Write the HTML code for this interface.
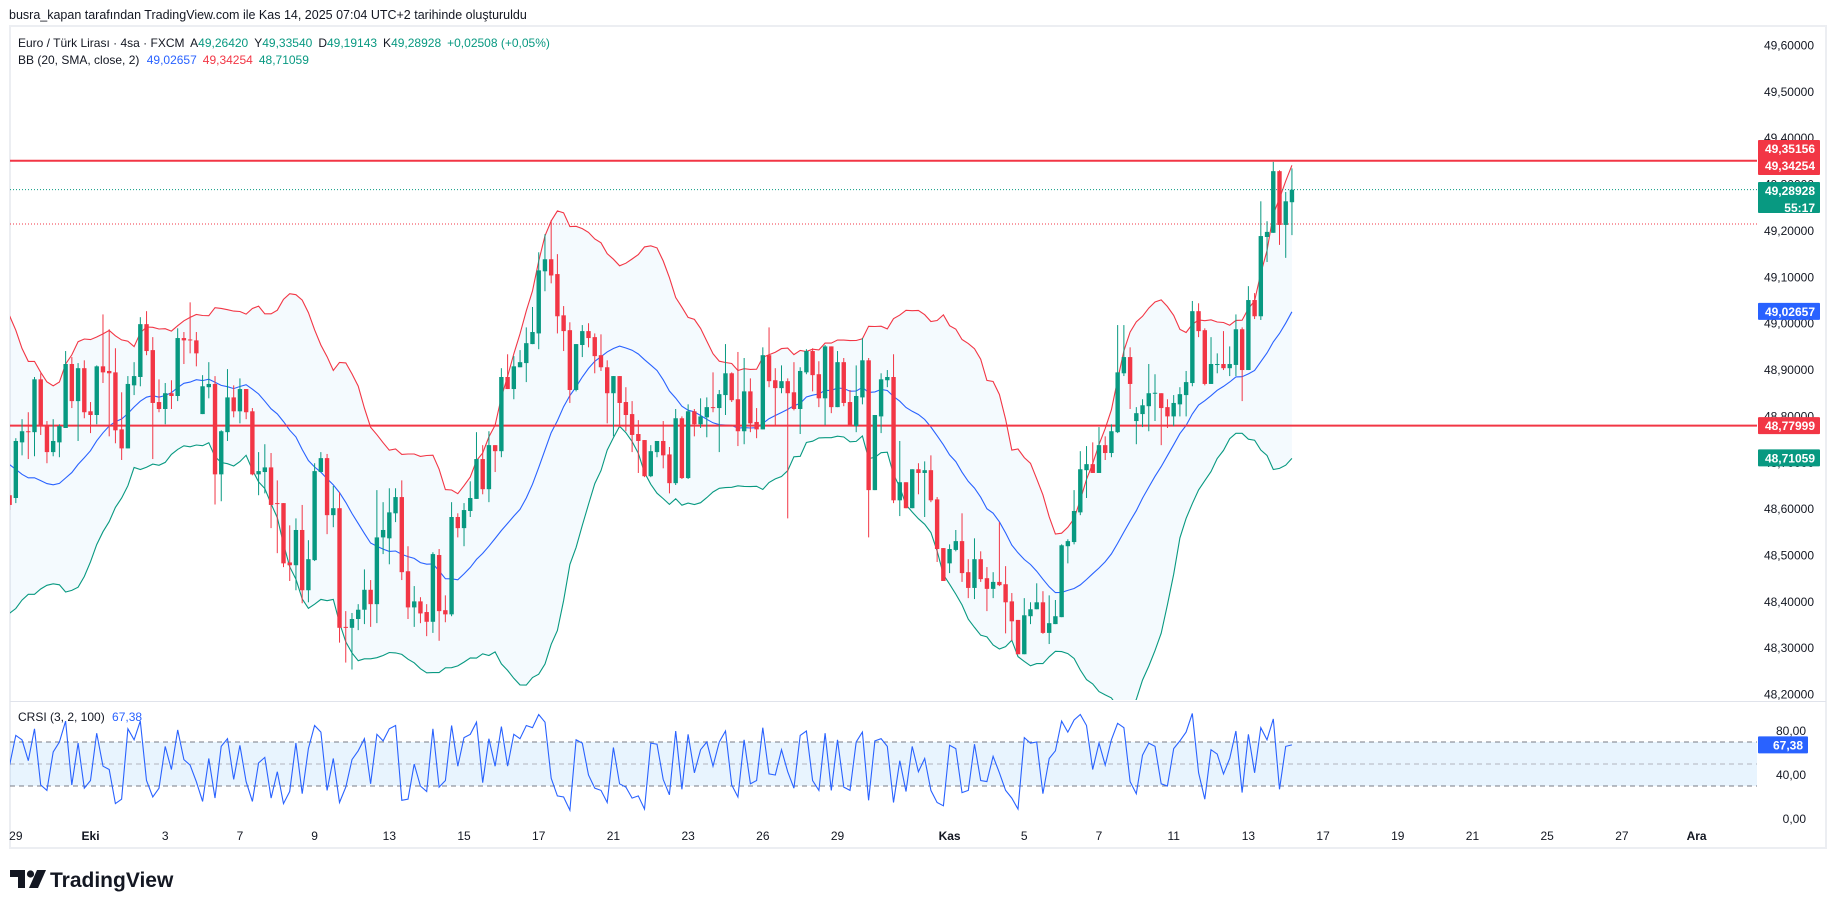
<!DOCTYPE html>
<html><head><meta charset="utf-8">
<style>
html,body{margin:0;padding:0;background:#fff;}
body{width:1835px;height:909px;overflow:hidden;font-family:"Liberation Sans","DejaVu Sans",sans-serif;}
svg{display:block;}
</style></head>
<body>
<svg id="chart" width="1835" height="909" viewBox="0 0 1835 909" xmlns="http://www.w3.org/2000/svg" font-family="Liberation Sans, DejaVu Sans, sans-serif">
  <rect x="0" y="0" width="1835" height="909" fill="#ffffff"/>
  <text x="9" y="19" font-size="12.5" fill="#131722">busra_kapan tarafından TradingView.com ile Kas 14, 2025 07:04 UTC+2 tarihinde oluşturuldu</text>
  <rect x="10" y="26" width="1816" height="822" fill="none" stroke="#eceef2" stroke-width="2"/>
  <line x1="10" y1="701.5" x2="1826" y2="701.5" stroke="#e0e3eb" stroke-width="1"/>
  <g id="main"></g>
  <g id="crsi"></g>
  <g id="axes"></g>
  <text x="18" y="47" font-size="12" fill="#131722">Euro / Türk Lirası · 4sa · FXCM <tspan dx="3">A</tspan><tspan fill="#089981">49,26420</tspan><tspan dx="6">Y</tspan><tspan fill="#089981">49,33540</tspan><tspan dx="6">D</tspan><tspan fill="#089981">49,19143</tspan><tspan dx="6">K</tspan><tspan fill="#089981">49,28928</tspan><tspan dx="6" fill="#089981">+0,02508 (+0,05%)</tspan></text>
  <text x="18" y="64" font-size="12" fill="#131722">BB (20, SMA, close, 2) <tspan dx="4" fill="#2962ff">49,02657</tspan><tspan dx="6" fill="#f23645">49,34254</tspan><tspan dx="6" fill="#089981">48,71059</tspan></text>
  <text x="18" y="721" font-size="12" fill="#131722">CRSI (3, 2, 100) <tspan dx="4" fill="#2962ff">67,38</tspan></text>
  <g>
    <path d="M10,870 H25 V888 H18 V877 H10 Z" fill="#131722"/>
    <circle cx="30.5" cy="874" r="3.6" fill="#131722"/>
    <path d="M37,870 H46 L38,888 H29 Z" fill="#131722"/>
    <text x="50" y="887" font-size="21" font-weight="bold" fill="#131722">TradingView</text>
  </g>
</svg>
<script>
// ---- data ----
const openP = [48.630,48.624,48.744,48.768,48.766,48.880,48.779,48.723,48.744,48.775,
48.913,48.833,48.904,48.811,48.803,48.908,48.898,48.895,48.772,48.731,
48.867,48.885,48.999,48.943,48.831,48.816,48.850,48.844,48.969,48.966,
48.964,48.805,48.863,48.870,48.675,48.766,48.841,48.811,48.859,48.811,
48.675,48.680,48.690,48.613,48.613,48.485,48.479,48.555,48.425,48.490,
48.680,48.710,48.587,48.602,48.346,48.344,48.363,48.383,48.426,48.395,
48.539,48.537,48.591,48.626,48.466,48.388,48.401,48.378,48.357,48.501,
48.382,48.373,48.583,48.559,48.596,48.622,48.708,48.643,48.738,48.725,
48.885,48.859,48.906,48.915,48.956,48.979,49.113,49.139,49.107,49.018,
48.986,48.857,48.954,48.984,48.971,48.932,48.906,48.850,48.887,48.831,
48.805,48.762,48.749,48.671,48.723,48.747,48.718,48.656,48.796,48.667,
48.811,48.783,48.798,48.820,48.818,48.846,48.893,48.837,48.768,48.854,
48.788,48.772,48.932,48.878,48.861,48.876,48.852,48.816,48.895,48.941,
48.891,48.839,48.951,48.820,48.917,48.831,48.779,48.841,48.921,48.641,
48.800,48.878,48.885,48.619,48.658,48.602,48.686,48.678,48.684,48.621,
48.516,48.483,48.512,48.531,48.464,48.430,48.492,48.451,48.428,48.443,
48.438,48.401,48.361,48.287,48.369,48.384,48.399,48.333,48.352,48.367,
48.520,48.529,48.593,48.684,48.697,48.678,48.738,48.721,48.766,48.893,
48.928,48.790,48.805,48.822,48.850,48.850,48.820,48.800,48.826,48.846,
48.872,49.027,48.986,48.870,48.911,48.913,48.904,48.911,48.988,48.900,
49.051,49.016,49.187,49.196,49.329,49.213,49.262];
const highP = [48.641,48.753,48.794,48.809,48.885,48.893,48.790,48.794,48.783,48.941,
48.928,48.915,48.921,48.831,48.910,49.020,48.988,48.947,48.852,48.887,
48.917,49.014,49.027,48.971,48.880,48.872,48.878,48.990,48.982,49.046,
48.982,48.889,48.917,48.887,48.770,48.902,48.867,48.882,48.859,48.818,
48.723,48.740,48.721,48.662,48.613,48.565,48.580,48.609,48.533,48.699,
48.723,48.719,48.650,48.637,48.380,48.376,48.395,48.470,48.447,48.641,
48.615,48.645,48.645,48.662,48.520,48.434,48.410,48.395,48.507,48.514,
48.414,48.615,48.591,48.613,48.660,48.766,48.738,48.768,48.738,48.904,
48.934,48.930,48.943,48.992,49.036,49.154,49.193,49.223,49.150,49.038,
49.003,48.956,48.997,49.001,48.979,48.977,48.921,48.887,48.887,48.863,
48.833,48.792,48.749,48.738,48.747,48.790,48.734,48.816,48.800,48.826,
48.816,48.839,48.841,48.895,48.857,48.956,48.895,48.939,48.926,48.882,
48.818,48.949,48.992,48.904,48.910,48.882,48.917,48.906,48.945,48.947,
48.919,48.954,48.951,48.941,48.926,48.857,48.910,48.969,48.926,48.803,
48.893,48.900,48.934,48.747,48.658,48.686,48.699,48.703,48.716,48.626,
48.516,48.524,48.555,48.591,48.492,48.537,48.509,48.475,48.464,48.572,
48.477,48.419,48.361,48.408,48.399,48.440,48.423,48.414,48.404,48.524,
48.535,48.641,48.725,48.736,48.744,48.777,48.757,48.783,48.997,48.997,
48.949,48.820,48.837,48.913,48.891,48.850,48.837,48.846,48.863,48.898,
49.049,49.044,48.990,48.971,48.936,48.984,48.951,49.020,48.992,49.081,
49.066,49.264,49.221,49.349,49.331,49.284,49.335];
const lowP = [48.598,48.613,48.716,48.708,48.714,48.760,48.699,48.714,48.712,48.775,
48.818,48.747,48.796,48.764,48.783,48.872,48.757,48.742,48.706,48.731,
48.846,48.865,48.932,48.708,48.809,48.783,48.816,48.833,48.913,48.936,
48.908,48.805,48.839,48.610,48.617,48.747,48.798,48.785,48.794,48.673,
48.630,48.634,48.559,48.505,48.475,48.445,48.425,48.397,48.399,48.488,
48.680,48.546,48.561,48.312,48.269,48.254,48.339,48.352,48.346,48.354,
48.503,48.481,48.572,48.447,48.363,48.346,48.354,48.326,48.333,48.316,
48.356,48.369,48.539,48.520,48.583,48.622,48.632,48.615,48.680,48.712,
48.859,48.837,48.906,48.874,48.956,48.945,49.070,49.087,48.979,48.941,
48.829,48.854,48.928,48.949,48.893,48.898,48.785,48.757,48.777,48.768,
48.723,48.678,48.669,48.669,48.712,48.688,48.634,48.652,48.665,48.665,
48.757,48.775,48.755,48.809,48.723,48.803,48.831,48.736,48.740,48.766,
48.753,48.772,48.863,48.779,48.850,48.580,48.813,48.762,48.891,48.854,
48.820,48.781,48.807,48.820,48.822,48.779,48.766,48.826,48.539,48.641,
48.764,48.863,48.613,48.585,48.602,48.602,48.632,48.583,48.615,48.486,
48.445,48.462,48.509,48.443,48.408,48.406,48.443,48.380,48.408,48.434,
48.332,48.316,48.287,48.287,48.352,48.384,48.331,48.309,48.352,48.367,
48.483,48.524,48.587,48.624,48.678,48.678,48.706,48.712,48.764,48.887,
48.816,48.740,48.777,48.768,48.790,48.738,48.775,48.779,48.800,48.800,
48.865,48.971,48.867,48.870,48.893,48.900,48.887,48.887,48.833,48.900,
49.010,49.008,49.133,49.196,49.170,49.142,49.191];
const closeP = [48.609,48.747,48.768,48.766,48.880,48.779,48.723,48.747,48.779,48.913,
48.833,48.904,48.809,48.803,48.908,48.895,48.893,48.770,48.731,48.870,
48.887,48.999,48.941,48.829,48.816,48.850,48.844,48.969,48.964,48.964,
48.936,48.865,48.870,48.675,48.768,48.841,48.811,48.859,48.809,48.675,
48.682,48.690,48.609,48.611,48.483,48.479,48.555,48.425,48.492,48.682,
48.710,48.587,48.602,48.344,48.344,48.363,48.383,48.426,48.395,48.539,
48.555,48.593,48.626,48.464,48.388,48.401,48.375,48.357,48.503,48.380,
48.373,48.583,48.559,48.598,48.624,48.708,48.643,48.738,48.725,48.885,
48.859,48.908,48.917,48.958,48.982,49.115,49.139,49.104,49.016,48.984,
48.857,48.956,48.984,48.969,48.930,48.906,48.850,48.887,48.829,48.803,
48.760,48.747,48.671,48.725,48.747,48.716,48.656,48.796,48.667,48.811,
48.783,48.800,48.820,48.818,48.848,48.893,48.835,48.768,48.854,48.785,
48.772,48.932,48.876,48.861,48.876,48.850,48.816,48.898,48.941,48.889,
48.839,48.951,48.820,48.917,48.829,48.779,48.844,48.921,48.641,48.803,
48.880,48.885,48.619,48.658,48.602,48.686,48.678,48.684,48.619,48.514,
48.445,48.514,48.531,48.462,48.430,48.492,48.449,48.428,48.443,48.436,
48.399,48.358,48.287,48.371,48.384,48.399,48.333,48.354,48.369,48.522,
48.531,48.596,48.686,48.697,48.678,48.738,48.721,48.768,48.895,48.928,
48.870,48.807,48.824,48.850,48.851,48.818,48.800,48.829,48.848,48.874,
49.027,48.984,48.870,48.913,48.913,48.904,48.913,48.988,48.900,49.051,
49.016,49.189,49.198,49.329,49.213,49.264,49.289];
// closes before the visible range (seed for the 20-period bands)
const prevCloses = [48.95,48.98,48.92,48.88,48.90,48.85,48.80,48.72,48.68,48.60,48.55,48.52,48.50,48.48,48.55,48.60,48.58,48.62,48.63];
const crsiVals = [49,76,72,53,82,31,26,61,70,89,31,69,28,35,78,48,45,14,18,82,
72,89,35,20,28,66,45,81,54,49,34,16,55,19,66,73,36,67,34,16,
51,56,19,43,14,25,69,23,64,85,79,26,55,15,29,54,62,73,32,77,
71,82,85,17,18,50,30,25,82,29,35,85,48,74,77,88,33,73,48,84,
48,77,73,85,83,95,88,37,21,20,8,72,69,40,28,26,
15,65,32,29,19,21,9,69,68,36,22,80,27,77,42,63,70,48,70,80,
31,20,72,32,35,83,41,40,63,43,28,76,80,35,26,78,26,72,29,26,
70,79,17,71,73,66,15,53,25,66,43,55,26,15,12,
67,64,24,26,68,35,34,57,42,26,19,9,74,69,70,23,55,62,89,79,
90,95,85,45,69,49,72,87,83,34,23,58,69,66,32,30,64,71,79,96,
42,18,63,59,41,55,80,24,77,42,83,72,91,27,66,67.38];
const priceTicks = [49.6,49.5,49.4,49.3,49.2,49.1,49.0,48.9,48.8,48.7,48.6,48.5,48.4,48.3,48.2];
const crsiTicks = [80,40,0];
const dateLabels = ["29","Eki","3","7","9","13","15","17","21","23","26","29","Kas","5","7","11","13","17","19","21","25","27","Ara"];
const dateIdx = [1,13,25,37,49,61,73,85,97,109,121,133,151,163,175,187,199,211,223,235,247,259,271];
const boldLabels = ["Eki","Kas","Ara"];
const resistanceLevel = 49.35156;
const supportLevel = 48.77999;
const lastPrice = 49.28928;
const prevCloseLevel = 49.215;
const bbLast = [49.34254, 49.02657, 48.71059]; // upper, basis, lower as printed
const crsiBands = [70,50,30];

// ---- scales ----
const NS = "http://www.w3.org/2000/svg";
const X0 = 9.6, DX = 6.225, PANE_L = 10, PANE_R = 1757;
function xAt(i){ return X0 + i*DX; }
function yP(p){ return 160.7 + (49.35156 - p)*463.6; }
function yC(v){ return 819 - v*1.1; }
function mk(tag, attrs, parent){ const e=document.createElementNS(NS,tag); for(const k in attrs) e.setAttribute(k,attrs[k]); parent.appendChild(e); return e; }
function fmt(p,d){ return p.toFixed(d).replace('.',','); }

const svg = document.getElementById('chart');
const main = document.getElementById('main');
const crsiG = document.getElementById('crsi');
const axes = document.getElementById('axes');

const defs = mk('defs',{},svg);
const cp = mk('clipPath',{id:'clipMain'},defs);
mk('rect',{x:PANE_L,y:27,width:PANE_R-PANE_L,height:673},cp);
const cp2 = mk('clipPath',{id:'clipCrsi'},defs);
mk('rect',{x:PANE_L,y:702,width:PANE_R-PANE_L,height:120},cp2);
main.setAttribute('clip-path','url(#clipMain)');
crsiG.setAttribute('clip-path','url(#clipCrsi)');

// ---- Bollinger Bands ----
const allC = prevCloses.concat(closeP);
const off = prevCloses.length;
const upper=[], mid=[], lower=[];
for(let i=0;i<closeP.length;i++){
  const j=i+off; const s=Math.max(0,j-19); const w=allC.slice(s,j+1);
  const m=w.reduce((a,b)=>a+b,0)/w.length;
  const sd=Math.sqrt(w.reduce((a,b)=>a+(b-m)*(b-m),0)/w.length);
  mid.push(m); upper.push(m+2*sd); lower.push(m-2*sd);
}
let fillD='M'+upper.map((v,i)=>xAt(i).toFixed(1)+','+yP(v).toFixed(1)).join(' L');
for(let i=lower.length-1;i>=0;i--) fillD+=' L'+xAt(i).toFixed(1)+','+yP(lower[i]).toFixed(1);
const bbFill = mk('path',{d:fillD+' Z',fill:'#2196f3','fill-opacity':'0.05',stroke:'none'},main);


function line(arr,color,name){
  const p = mk('path',{d:'M'+arr.map((v,i)=>xAt(i).toFixed(1)+','+yP(v).toFixed(1)).join(' L'),fill:'none',stroke:color,'stroke-width':'1.1'},main);
  
  
}
line(upper,'#f23645','bb-upper');
line(mid,'#2962ff','bb-basis');
line(lower,'#089981','bb-lower');

// ---- horizontal levels ----
const resLine = mk('line',{x1:PANE_L,x2:PANE_R,y1:yP(resistanceLevel),y2:yP(resistanceLevel),stroke:'#f23645','stroke-width':'2'},main);


const supLine = mk('line',{x1:PANE_L,x2:PANE_R,y1:yP(supportLevel),y2:yP(supportLevel),stroke:'#f23645','stroke-width':'2'},main);


const lpLine = mk('line',{x1:PANE_L,x2:PANE_R,y1:yP(lastPrice),y2:yP(lastPrice),stroke:'#089981','stroke-width':'1','stroke-dasharray':'1 2'},main);


const pcLine = mk('line',{x1:PANE_L,x2:PANE_R,y1:yP(prevCloseLevel),y2:yP(prevCloseLevel),stroke:'#f23645','stroke-width':'1','stroke-dasharray':'1 2'},main);



// ---- candles ----
for(let i=0;i<closeP.length;i++){
  const up = closeP[i]>=openP[i];
  const col = up?'#089981':'#f23645';
  const x = xAt(i);
  const g = mk('g',{},main);
  
  
  mk('line',{x1:x,x2:x,y1:yP(highP[i]),y2:yP(lowP[i]),stroke:col,'stroke-width':'1'},g);
  const yt=yP(Math.max(openP[i],closeP[i])), yb=yP(Math.min(openP[i],closeP[i]));
  mk('rect',{x:x-2.2,y:yt,width:4.4,height:Math.max(1,yb-yt),fill:col},g);
}

// ---- CRSI pane ----
const cf = mk('rect',{x:PANE_L,y:yC(70),width:PANE_R-PANE_L,height:yC(30)-yC(70),fill:'#2196f3','fill-opacity':'0.1'},crsiG);


crsiBands.forEach((b,k)=>{
  const l = mk('line',{x1:PANE_L,x2:PANE_R,y1:yC(b),y2:yC(b),stroke:k===1?'#b2b5be':'#787b86','stroke-width':'1','stroke-dasharray':'5 4'},crsiG);
  
  
});
const cl = mk('path',{d:'M'+crsiVals.map((v,i)=>xAt(i).toFixed(1)+','+yC(v).toFixed(1)).join(' L'),fill:'none',stroke:'#2962ff','stroke-width':'1.1'},crsiG);



// ---- axes ----
priceTicks.forEach(p=>{
  const t = mk('text',{x:1814,y:yP(p)+4,'font-size':'12','text-anchor':'end',fill:'#131722'},axes);
  t.textContent = fmt(p,5);
  
  
});
crsiTicks.forEach(v=>{
  const t = mk('text',{x:1806,y:yC(v)+4,'font-size':'12','text-anchor':'end',fill:'#131722'},axes);
  t.textContent = fmt(v,2);
  
  
});
dateLabels.forEach((d,k)=>{
  const t = mk('text',{x:xAt(dateIdx[k]),y:840,'font-size':'12','text-anchor':'middle',fill:'#131722'},axes);
  if(boldLabels.indexOf(d)>=0) t.setAttribute('font-weight','bold');
  t.textContent = d;
  
  
});
function badge(y0,h,color,lines,name,x1){
  const g = mk('g',{},axes);
  
  
  mk('rect',{x:1758,y:y0,width:(x1||1820)-1758,height:h,fill:color,rx:'1'},g);
  lines.forEach((s,k)=>{
    const t = mk('text',{x:(x1||1820)-5,y:y0+13+k*17,'font-size':'12','font-weight':'bold','text-anchor':'end',fill:'#ffffff'},g);
    t.textContent = s;
  });
}
badge(140,35,'#f23645',[fmt(resistanceLevel,5),fmt(bbLast[0],5)],'upper-price-badge');
badge(182,31,'#089981',[fmt(lastPrice,5),'55:17'],'last-price-badge');
badge(yP(bbLast[1])-8.5,17,'#2962ff',[fmt(bbLast[1],5)],'bb-basis-badge');
badge(yP(supportLevel)-8.5,17,'#f23645',[fmt(supportLevel,5)],'support-badge');
badge(yP(bbLast[2])-8.5,17,'#089981',[fmt(bbLast[2],5)],'bb-lower-badge');
badge(yC(crsiVals[crsiVals.length-1])-8.5,17,'#2962ff',[fmt(crsiVals[crsiVals.length-1],2)],'crsi-value-badge',1808);
</script>
</body></html>
